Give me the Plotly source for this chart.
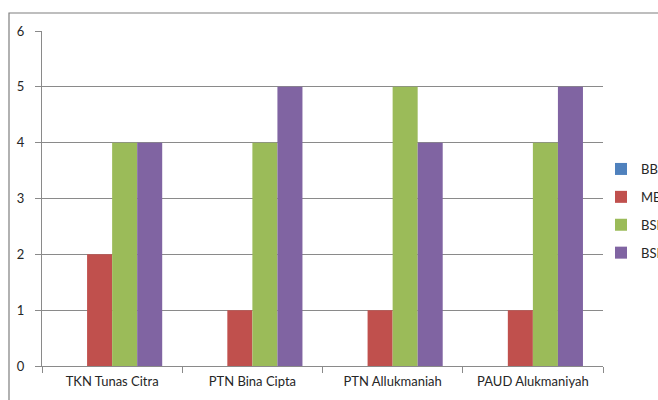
import plotly.graph_objects as go

categories = ["TKN Tunas Citra", "PTN Bina Cipta", "PTN Allukmaniah", "PAUD Alukmaniyah"]
series_names = ["BB", "MB", "BSH", "BSB"]
bb_values = [0, 0, 0, 0]
mb_values = [2, 1, 1, 1]
bsh_values = [4, 4, 5, 4]
bsb_values = [4, 5, 4, 5]
y_ticks = [0, 1, 2, 3, 4, 5, 6]

colors = ["#4F81BD", "#C0504D", "#9BBB59", "#8064A2"]
all_values = [bb_values, mb_values, bsh_values, bsb_values]

W, H = 658, 400
L, R, T, B = 42, 55, 31, 34
pw, ph = W - L - R, H - T - B

fig = go.Figure()
for i, (name, vals, col) in enumerate(zip(series_names, all_values, colors)):
    fig.add_trace(go.Bar(x=categories, y=vals, name=name, marker_color=col,
                         marker_line_width=0, legendgroup=name))

grid = "#8a8a8a"
font = dict(family="Lato, 'Open Sans', sans-serif", size=13, color="#262626")

fig.update_layout(
    width=W, height=H,
    margin=dict(l=L, r=R, t=T, b=B, autoexpand=False),
    paper_bgcolor="white", plot_bgcolor="white",
    barmode="group", bargap=40 / 140, bargroupgap=0,
    font=font,
    showlegend=True,
    legend=dict(x=(601 - L) / pw, y=(H - B - 154) / ph, xanchor="left", yanchor="top",
                tracegroupgap=8, font=dict(family="Lato, sans-serif", size=13, color="#262626"),
                bgcolor="rgba(0,0,0,0)"),
    xaxis=dict(showline=True, linecolor=grid, linewidth=1, ticks="outside",
               tickson="boundaries", ticklen=6, tickcolor=grid, showgrid=False,
               tickfont=font, ticklabelstandoff=3),
    yaxis=dict(range=[0, 6], tickvals=y_ticks, showline=True, linecolor=grid, linewidth=1,
               ticks="outside", ticklen=6, tickcolor=grid, showgrid=True, gridcolor=grid,
               gridwidth=1, zeroline=False, ticklabelstandoff=8, tickfont=font),
    shapes=[dict(type="rect", xref="paper", yref="paper",
                 x0=(9 - L) / pw, x1=2.0, y0=-1.0, y1=(H - B - 13) / ph,
                 line=dict(color="#7f7f7f", width=1.2), fillcolor="rgba(0,0,0,0)",
                 layer="below")],
)

fig.write_html("out.html", config={"displayModeBar": False},
               post_script="document.body.style.margin='0';")
